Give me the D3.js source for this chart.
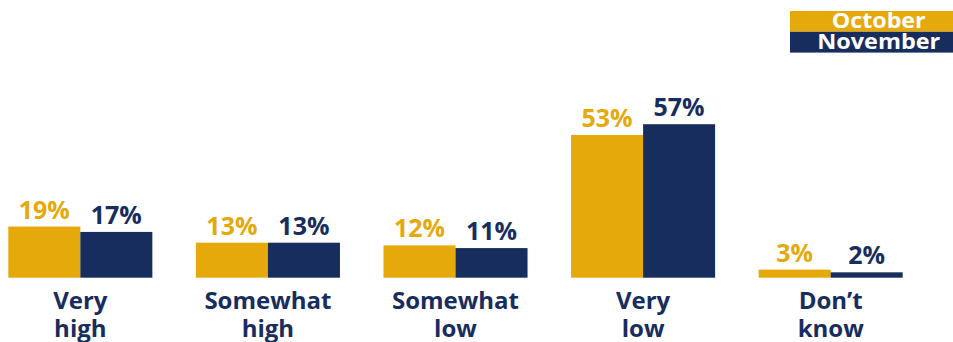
<!DOCTYPE html>
<html>
<head>
<meta charset="utf-8">
<script src="https://cdn.jsdelivr.net/npm/d3@7"></script>
<style>
  html, body { margin: 0; padding: 0; background: #fff; }
  svg { display: block; font-family: "Open Sans", "Noto Sans", sans-serif; font-weight: 700; }
</style>
</head>
<body>
<svg id="chart" width="953" height="342"></svg>
<script>
// Survey answers and shares per month
const categories = [["Very", "high"], ["Somewhat", "high"], ["Somewhat", "low"], ["Very", "low"], ["Don\u2019t", "know"]];
const seriesNames = ["October", "November"];
const october = [19, 13, 12, 53, 3];
const november = [17, 13, 11, 57, 2];
const seriesColors = ["#E5A90B", "#172D5E"];

const svg = d3.select("#chart");
const baseline = 277.7;

const x0 = d3.scaleBand()
  .domain(d3.range(categories.length))
  .range([8.3, 902.7])
  .paddingInner(0.232)
  .paddingOuter(0);

const x1 = d3.scaleBand()
  .domain(seriesNames)
  .range([0, x0.bandwidth()]);

const y = d3.scaleLinear().domain([0, 100]).range([baseline, baseline - 269.3]);

const color = d3.scaleOrdinal().domain(seriesNames).range(seriesColors);

const rows = categories.map((c, i) => ({
  index: i,
  label: c,
  values: [
    { key: "October", value: october[i] },
    { key: "November", value: november[i] }
  ]
}));

const groups = svg.selectAll("g.group")
  .data(rows)
  .join("g")
  .attr("class", "group")
  .attr("transform", d => `translate(${x0(d.index)},0)`);

groups.selectAll("rect")
  .data(d => d.values)
  .join("rect")
  .attr("x", d => x1(d.key))
  .attr("y", d => y(d.value))
  .attr("width", x1.bandwidth())
  .attr("height", d => baseline - y(d.value))
  .attr("fill", d => color(d.key));

groups.selectAll("text.value")
  .data(d => d.values)
  .join("text")
  .attr("class", "value")
  .attr("x", d => x1(d.key) + x1.bandwidth() / 2)
  .attr("y", d => y(d.value) - 8)
  .attr("text-anchor", "middle")
  .attr("font-size", 25)
  .attr("fill", d => color(d.key))
  .text(d => d.value + "%");

// Category labels below the bars, two lines each
groups.append("text")
  .attr("class", "category")
  .attr("x", x0.bandwidth() / 2)
  .attr("y", 308.5)
  .attr("text-anchor", "middle")
  .attr("font-size", 24)
  .attr("fill", seriesColors[1])
  .selectAll("tspan")
  .data(d => d.label)
  .join("tspan")
  .attr("x", x0.bandwidth() / 2)
  .attr("dy", (d, i) => i === 0 ? 0 : 28.5)
  .text(d => d);

// Legend: stacked colour bands with white, widened labels
const legend = svg.append("g").attr("transform", "translate(790,11)");
const legendRowH = 20.8;
const legendTextWidth = { October: 94, November: 123 };
legend.selectAll("rect")
  .data(seriesNames)
  .join("rect")
  .attr("x", 0)
  .attr("y", (d, i) => i * legendRowH)
  .attr("width", 178)
  .attr("height", legendRowH)
  .attr("fill", d => color(d));
legend.selectAll("text")
  .data(seriesNames)
  .join("text")
  .attr("x", d => 88.7 - legendTextWidth[d] / 2)
  .attr("y", (d, i) => i * legendRowH + 17.3)
  .attr("font-size", 21)
  .attr("textLength", d => legendTextWidth[d])
  .attr("lengthAdjust", "spacingAndGlyphs")
  .attr("fill", "#fff")
  .text(d => d);
</script>
</body>
</html>
